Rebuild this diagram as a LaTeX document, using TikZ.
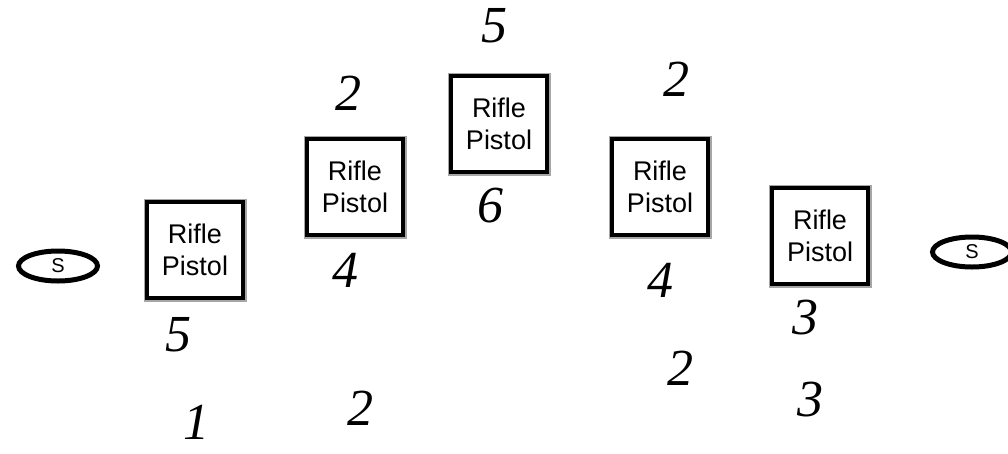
\documentclass[tikz,border=0pt]{standalone}
\usepackage{fontspec}
\setmainfont{Liberation Sans}
\newfontfamily\handfont{Liberation Serif}
\usetikzlibrary{shapes.geometric}
\tikzset{
  x=1pt, y=1pt,
  weapon/.style={draw=black, fill=white, line width=4.5pt, minimum width=96pt, minimum height=96pt,
    inner sep=0pt, align=center, font=\fontsize{27}{32}\selectfont,
    preaction={draw=black!35, line width=7pt}},
  endpt/.style={draw=black, line width=5pt, ellipse, minimum width=79pt, minimum height=30pt,
    inner sep=0pt, font=\fontsize{20}{20}\selectfont},
  hand/.style={font=\handfont\itshape\fontsize{52}{52}\selectfont, inner sep=0pt}
}
\begin{document}
\begin{tikzpicture}
\useasboundingbox (0,0) rectangle (1008,-453);
\fill[white] (0,0) rectangle (1008,-453);
% end ellipses
\node[endpt] (sL) at (58,-266) {S};
\node[endpt] (sR) at (972,-252) {S};
% boxes
\node[weapon] (b1) at (195,-250) {Rifle\\Pistol};
\node[weapon] (b2) at (355,-187) {Rifle\\Pistol};
\node[weapon] (b3) at (499,-124) {Rifle\\Pistol};
\node[weapon] (b4) at (660,-187) {Rifle\\Pistol};
\node[weapon] (b5) at (820,-236) {Rifle\\Pistol};
% handwritten numbers
\node[hand] (n1a) at (178,-335) {5};
\node[hand] (n1b) at (196,-422) {1};
\node[hand] (n2t) at (348,-93) {2};
\node[hand] (n2a) at (345,-270) {4};
\node[hand] (n2b) at (360,-408) {2};
\node[hand] (n3t) at (494,-26) {5};
\node[hand] (n3a) at (490,-206) {6};
\node[hand] (n4t) at (676,-79) {2};
\node[hand] (n4a) at (660,-280) {4};
\node[hand] (n4b) at (680,-368) {2};
\node[hand] (n5a) at (805,-318) {3};
\node[hand] (n5b) at (810,-400) {3};
\end{tikzpicture}
\end{document}
